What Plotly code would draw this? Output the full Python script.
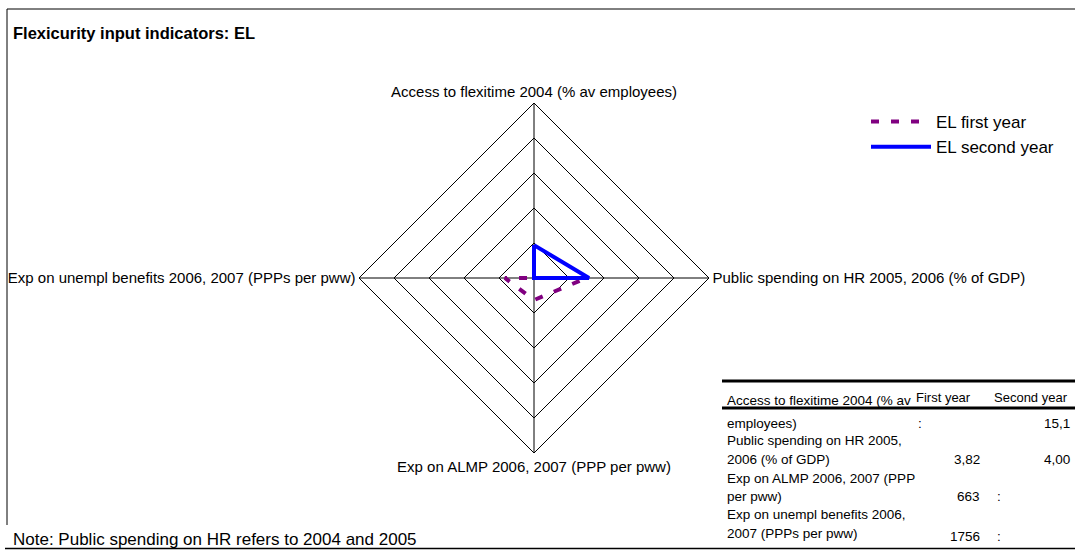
import plotly.graph_objects as go

W, H = 1075, 550

# ---- data ----
title_text = "Flexicurity input indicators: EL"
categories = [
    "Access to flexitime 2004 (% av employees)",
    "Public spending on HR 2005, 2006 (% of GDP)",
    "Exp on ALMP 2006, 2007 (PPP per pww)",
    "Exp on unempl benefits 2006, 2007 (PPPs per pww)",
]
series_names = ["EL first year", "EL second year"]
first_year = [0.0, 1.5, 0.63, 0.83]
second_year = [0.94, 1.57, 0.0, 0.0]

table_header = ["First year", "Second year"]
table_row_lines = [
    ["Access to flexitime 2004 (% av", "employees)"],
    ["Public spending on HR 2005,", "2006 (% of GDP)"],
    ["Exp on ALMP 2006, 2007 (PPP", "per pww)"],
    ["Exp on unempl benefits 2006,", "2007 (PPPs per pww)"],
]
table_first = [":", "3,82", "663", "1756"]
table_second = ["15,1", "4,00", ":", ":"]
note_text = "Note: Public spending on HR refers to 2004 and 2005"

FONT = "Liberation Sans, Arial, sans-serif"


def px(x):
    return x / W


def py(y):
    return 1 - y / H


fig = go.Figure()

fig.add_trace(go.Scatterpolar(
    r=first_year + first_year[:1],
    theta=categories + categories[:1],
    mode="lines",
    name=series_names[0],
    line=dict(color="#800080", width=4, dash="8px,12px"),
))
fig.add_trace(go.Scatterpolar(
    r=second_year + second_year[:1],
    theta=categories + categories[:1],
    mode="lines",
    name=series_names[1],
    line=dict(color="#0000FF", width=4),
))

fig.update_layout(
    width=W, height=H,
    margin=dict(l=0, r=0, t=0, b=0),
    paper_bgcolor="white",
    plot_bgcolor="white",
    font=dict(family=FONT, color="black"),
    polar=dict(
        domain=dict(x=[px(359), px(709)], y=[py(453), py(103)]),
        bgcolor="white",
        gridshape="linear",
        radialaxis=dict(range=[0, 5], dtick=1, showline=False, ticks="",
                        showticklabels=False, gridcolor="black", gridwidth=1),
        angularaxis=dict(rotation=90, direction="clockwise", showline=True,
                         linecolor="black", linewidth=1, gridcolor="black",
                         gridwidth=1, ticks="",
                         tickfont=dict(size=15, family=FONT, color="black")),
    ),
    legend=dict(x=px(866), y=py(104), xanchor="left", yanchor="top",
                font=dict(size=17, family=FONT, color="black"),
                itemwidth=60, bgcolor="rgba(0,0,0,0)"),
    showlegend=True,
)

shapes = []
# outer frame
shapes.append(dict(type="line", xref="paper", yref="paper", x0=px(7), x1=px(1075),
                   y0=py(9), y1=py(9), line=dict(color="black", width=1)))
shapes.append(dict(type="line", xref="paper", yref="paper", x0=px(7), x1=px(7),
                   y0=py(9), y1=py(525), line=dict(color="black", width=1)))
shapes.append(dict(type="line", xref="paper", yref="paper", x0=px(5), x1=px(1075),
                   y0=py(548.5), y1=py(548.5), line=dict(color="black", width=1.5)))
# table rules
shapes.append(dict(type="line", xref="paper", yref="paper", x0=px(722), x1=px(1075),
                   y0=py(381), y1=py(381), line=dict(color="black", width=3)))
shapes.append(dict(type="line", xref="paper", yref="paper", x0=px(722), x1=px(1075),
                   y0=py(408), y1=py(408), line=dict(color="black", width=3)))

ann = []
ann.append(dict(text="<b>" + title_text + "</b>", x=px(11), y=py(33), xref="paper", yref="paper",
                xanchor="left", yanchor="middle", showarrow=False,
                font=dict(size=16.5, family=FONT, color="black")))
ann.append(dict(text=note_text, x=px(11), y=py(539), xref="paper", yref="paper",
                xanchor="left", yanchor="middle", showarrow=False,
                font=dict(size=17, family=FONT, color="black")))

# table header
for txt, cx in zip(table_header, [943, 1031]):
    ann.append(dict(text=txt, x=px(cx), y=py(397), xref="paper", yref="paper",
                    xanchor="center", yanchor="middle", showarrow=False,
                    font=dict(size=13, family=FONT, color="black")))

line_y = [[400, 423], [441, 459], [478, 496], [514, 533]]
num_y = [423, 459, 496, 536]
TF = 13.5
for lines, ys in zip(table_row_lines, line_y):
    for t, yy in zip(lines, ys):
        ann.append(dict(text=t, x=px(725), y=py(yy), xref="paper", yref="paper",
                        xanchor="left", yanchor="middle", showarrow=False,
                        font=dict(size=TF, family=FONT, color="black")))


def cell(val, yy, left_x, right_x):
    if val.strip() == ":":
        return dict(text=val, x=px(left_x), y=py(yy), xref="paper", yref="paper",
                    xanchor="left", yanchor="middle", showarrow=False,
                    font=dict(size=TF, family=FONT, color="black"))
    return dict(text=val, x=px(right_x), y=py(yy), xref="paper", yref="paper",
                xanchor="right", yanchor="middle", showarrow=False,
                font=dict(size=TF, family=FONT, color="black"))


for v1, v2, yy in zip(table_first, table_second, num_y):
    ann.append(cell(v1, yy, 916, 982))
    ann.append(cell(v2, yy, 995, 1072))

fig.update_layout(shapes=shapes, annotations=ann)

fig.write_html(
    "out.html",
    config={"displayModeBar": False},
    post_script="document.body.style.margin='0';document.body.style.overflow='hidden';",
)
